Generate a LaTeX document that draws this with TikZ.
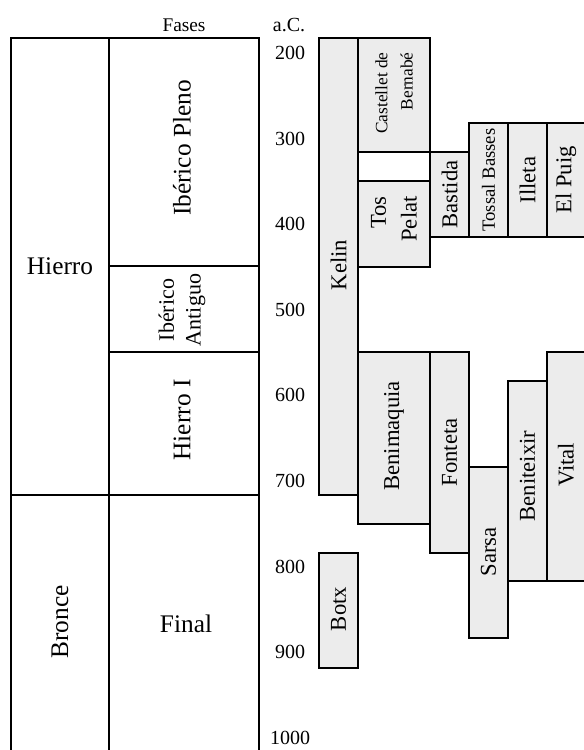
\documentclass[tikz,border=0pt]{standalone}
\usepackage{fontspec}
\setmainfont{Liberation Serif}
\usepackage{xcolor}
\definecolor{relleno}{gray}{0.925}

\begin{document}
\begin{tikzpicture}[x=0.75pt,y=-0.75pt,
  linea/.style={line width=1.5pt},
  periodo/.style={draw, line width=1.5pt, fill=relleno},
  grande/.style={font=\fontsize{19}{21}\selectfont},
  sitio/.style={font=\fontsize{17}{23}\selectfont, rotate=90, align=center},
  fecha/.style={font=\fontsize{15}{17}\selectfont}]
\useasboundingbox (0,0) rectangle (584,750);
\clip (0,0) rectangle (584,750);

% cabecera
\node[font=\fontsize{14.5}{16}\selectfont] (fases) at (184,25) {Fases};
\node[fecha] (ac) at (289,25) {a.C.};

% tabla de fases
\draw[linea] (10,38) -- (260,38);
\draw[linea] (11,37) -- (11,752);
\draw[linea] (109,38) -- (109,752);
\draw[linea] (259,37) -- (259,752);
\draw[linea] (109,266) -- (260,266);
\draw[linea] (109,352) -- (260,352);
\draw[linea] (10,495) -- (260,495);

\node[grande] (hierro) at (60,266) {Hierro};
\node[grande, rotate=90] (bronce) at (60,622) {Bronce};
\node[grande] (final) at (186,624) {Final};
\node[grande, rotate=90] (pleno) at (182,148) {Ibérico Pleno};
\node[font=\fontsize{16.5}{20}\selectfont, rotate=90, align=center] (antiguo) at (182,310) {Ibérico\\Antiguo};
\node[grande, rotate=90] (hierroI) at (182,420) {Hierro I};

% escala
\foreach \a [count=\i from 0] in {200,300,...,1000}
  \node[fecha] (f\a) at (290,53+85.6*\i) {\a};

% yacimientos
\draw[periodo] (319,38) rectangle (358,495);
\node[sitio] (kelin) at (338.5,265) {Kelin};
\draw[periodo] (358,38) rectangle (430,152);
\node[sitio, font=\fontsize{13}{19}\selectfont, align=right] (castellet) at (394,93) {Castellet de\\Bernabé};
\draw[linea, fill=white] (358,152) rectangle (430,181);
\draw[periodo] (358,181) rectangle (430,267);
\node[sitio, align=right] (tospelat) at (394,219) {Tos\\Pelat};
\draw[periodo] (430,152) rectangle (469,237);
\node[sitio] (bastida) at (449.5,194.5) {Bastida};
\draw[periodo] (469,123) rectangle (508,237);
\node[sitio, font=\fontsize{14}{16}\selectfont] (tossal) at (488.5,180) {Tossal Basses};
\draw[periodo] (508,123) rectangle (547,237);
\node[sitio] (illeta) at (527.5,180) {Illeta};
\draw[periodo] (547,123) rectangle (592,237);
\node[sitio] (elpuig) at (566,180) {El Puig};

\draw[periodo] (358,352) rectangle (430,524);
\node[sitio] (benimaquia) at (394,436) {Benimaquia};
\draw[periodo] (430,352) rectangle (469,553);
\node[sitio] (fonteta) at (449.5,452.5) {Fonteta};
\draw[periodo] (469,467) rectangle (508,638);
\node[sitio] (sarsa) at (488.5,552) {Sarsa};
\draw[periodo] (508,381) rectangle (547,581);
\node[sitio] (beniteixir) at (527.5,476) {Beniteixir};
\draw[periodo] (547,352) rectangle (592,581);
\node[sitio] (vital) at (566,465) {Vital};

\draw[periodo] (319,553) rectangle (358,668);
\node[sitio] (botx) at (338.5,609) {Botx};
\end{tikzpicture}
\end{document}
